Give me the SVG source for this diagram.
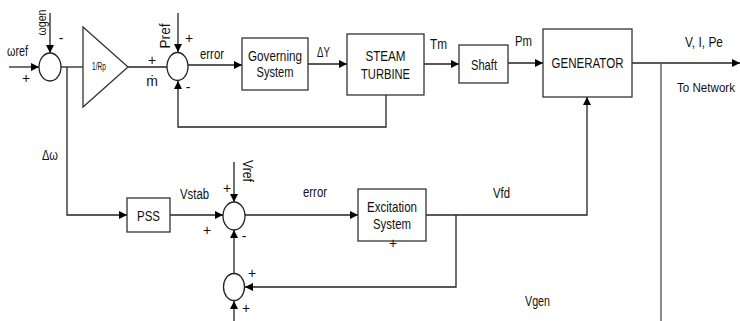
<svg xmlns="http://www.w3.org/2000/svg" width="740" height="321" viewBox="0 0 740 321">
<defs>
<marker id="ah" viewBox="0 0 10 10" refX="10" refY="5" markerWidth="8" markerHeight="8" markerUnits="userSpaceOnUse" orient="auto">
<path d="M0,0 L10,5 L0,10 z" fill="#000"/>
</marker>
<style>
text{font-family:"Liberation Sans",Arial,sans-serif;font-size:14px;fill:#111}
.c{text-anchor:middle}
.b{font-size:14.5px}
.box{fill:#fff;stroke:#333;stroke-width:1.3}
.sum{fill:#fff;stroke:#222;stroke-width:1.3}
.ln{fill:none;stroke:#222;stroke-width:1.3}
.gr{fill:none;stroke:#666;stroke-width:1.5}
.ar{marker-end:url(#ah)}
</style>
</defs>

<g id="connectors">
<path class="ln ar" d="M9,67 H39"/>
<path class="ln ar" d="M50,13 V53"/>
<path class="ln" d="M61,67 H83"/>
<path class="ln" d="M128,67 H167"/>
<path class="ln ar" d="M178,13 V52"/>
<path class="ln ar" d="M188,65 H242"/>
<path class="ln ar" d="M308,64 H347"/>
<path class="ln ar" d="M424,64 H459"/>
<path class="ln ar" d="M508,63 H543"/>
<path class="ln ar" d="M632,63 H740"/>
<path class="gr" d="M661,63 V321"/>
<path class="ln ar" d="M386,95 V127 H178 V81"/>
<path class="ln ar" d="M67,67 V215 H127"/>
<path class="ln ar" d="M170,215 H223"/>
<path class="ln ar" d="M234,162 V202"/>
<path class="ln ar" d="M245,215 H358"/>
<path class="ln ar" d="M426,215 H587 V97"/>
<path class="ln ar" d="M456,215 V287 H245"/>
<path class="ln ar" d="M234,273 V230"/>
<path class="ln ar" d="M234,321 V301"/>
</g>

<g id="sum1"><ellipse class="sum" cx="50" cy="67" rx="11" ry="14"/></g>
<g id="gain"><path class="box" d="M83,27 L128,67 L83,107 z"/><text x="99" y="70" class="c" style="font-size:10px" textLength="14" lengthAdjust="spacingAndGlyphs">1/Rp</text></g>
<g id="sum2"><ellipse class="sum" cx="177.5" cy="66.5" rx="10.5" ry="14"/></g>
<g id="governing"><rect class="box" x="242" y="38" width="66" height="52"/><text x="275" y="61" class="c b" textLength="54" lengthAdjust="spacingAndGlyphs">Governing</text><text x="275" y="77" class="c b" textLength="37" lengthAdjust="spacingAndGlyphs">System</text></g>
<g id="turbine"><rect class="box" x="347" y="34" width="77" height="61"/><text x="385.5" y="61" class="c b" textLength="40" lengthAdjust="spacingAndGlyphs">STEAM</text><text x="385.5" y="79" class="c b" textLength="49" lengthAdjust="spacingAndGlyphs">TURBINE</text></g>
<g id="shaft"><rect class="box" x="459" y="45" width="49" height="38"/><text x="484" y="70" class="c b" textLength="26" lengthAdjust="spacingAndGlyphs">Shaft</text></g>
<g id="generator"><rect class="box" x="543" y="29" width="89" height="68"/><text x="587.5" y="68" class="c b" textLength="72" lengthAdjust="spacingAndGlyphs">GENERATOR</text></g>
<g id="pss"><rect class="box" x="127" y="198" width="43" height="34"/><text x="148.5" y="221" class="c b" textLength="23" lengthAdjust="spacingAndGlyphs">PSS</text></g>
<g id="sum3"><ellipse class="sum" cx="234" cy="216" rx="11" ry="14"/></g>
<g id="excitation"><rect class="box" x="358" y="189" width="68" height="52"/><text x="392" y="212" class="c b" textLength="50" lengthAdjust="spacingAndGlyphs">Excitation</text><text x="392" y="229" class="c b" textLength="38" lengthAdjust="spacingAndGlyphs">System</text></g>
<g id="sum4"><ellipse class="sum" cx="234" cy="287" rx="10.5" ry="13.5"/></g>

<g id="labels">
<text x="17.5" y="56" class="c" textLength="21" lengthAdjust="spacingAndGlyphs">ωref</text>
<text x="26" y="83" class="c">+</text>
<text transform="translate(46,22.5) rotate(-90)" class="c" style="font-size:13px" textLength="26" lengthAdjust="spacingAndGlyphs">ωgen</text>
<text x="61" y="43" class="c">-</text>
<text transform="translate(170,36) rotate(-90)" class="c" style="font-size:15px" textLength="25" lengthAdjust="spacingAndGlyphs">Pref</text>
<text x="189" y="43" class="c">+</text>
<text x="152" y="65" class="c">+</text>
<text x="152" y="86" class="c">ṁ</text>
<text x="188" y="92" class="c">-</text>
<text x="212" y="59" class="c" textLength="24" lengthAdjust="spacingAndGlyphs">error</text>
<text x="323.5" y="57" class="c" textLength="13" lengthAdjust="spacingAndGlyphs">ΔY</text>
<text x="438.5" y="49" class="c" textLength="17" lengthAdjust="spacingAndGlyphs">Tm</text>
<text x="523.5" y="46" class="c" textLength="17" lengthAdjust="spacingAndGlyphs">Pm</text>
<text x="704" y="47" class="c" textLength="38" lengthAdjust="spacingAndGlyphs">V, I,  Pe</text>
<text x="706" y="92" class="c" style="font-size:12px" textLength="58" lengthAdjust="spacingAndGlyphs">To Network</text>
<text x="50" y="160" class="c" textLength="16" lengthAdjust="spacingAndGlyphs">Δω</text>
<text x="194.5" y="199" class="c" textLength="29" lengthAdjust="spacingAndGlyphs">Vstab</text>
<text x="207" y="235" class="c">+</text>
<text transform="translate(243,171) rotate(90)" class="c" textLength="22" lengthAdjust="spacingAndGlyphs">Vref</text>
<text x="227" y="193" class="c">+</text>
<text x="244" y="241" class="c">-</text>
<text x="315" y="197" class="c" textLength="24" lengthAdjust="spacingAndGlyphs">error</text>
<text x="393" y="248" class="c">+</text>
<text x="501.5" y="198" class="c" textLength="17" lengthAdjust="spacingAndGlyphs">Vfd</text>
<text x="252" y="278" class="c">+</text>
<text x="246" y="313" class="c">+</text>
<text x="537.5" y="306" class="c" textLength="25" lengthAdjust="spacingAndGlyphs">Vgen</text>
</g>
</svg>
